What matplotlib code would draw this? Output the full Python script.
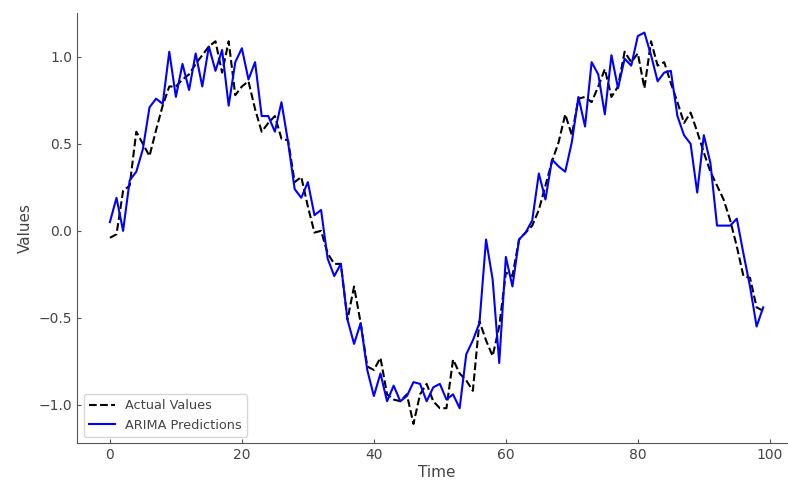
import numpy as np
import matplotlib.pyplot as plt

time = np.arange(100)

actual = [
    -0.04, -0.02, 0.23, 0.26, 0.57, 0.50, 0.43, 0.58, 0.72, 0.83,
    0.83, 0.87, 0.90, 0.96, 1.01, 1.06, 1.09, 0.91, 1.09, 0.78,
    0.83, 0.86, 0.70, 0.57, 0.62, 0.66, 0.53, 0.52, 0.28, 0.31,
    0.14, -0.01, 0.00, -0.13, -0.19, -0.19, -0.51, -0.32, -0.53, -0.78,
    -0.80, -0.73, -0.94, -0.97, -0.98, -0.94, -1.11, -0.94, -0.88, -0.98,
    -1.02, -1.02, -0.74, -0.82, -0.86, -0.92, -0.52, -0.63, -0.72, -0.55,
    -0.24, -0.26, -0.05, -0.01, 0.03, 0.12, 0.26, 0.40, 0.51, 0.67,
    0.55, 0.76, 0.77, 0.74, 0.83, 0.93, 0.77, 0.83, 1.03, 0.97,
    1.02, 0.82, 1.09, 0.95, 0.97, 0.85, 0.74, 0.62, 0.68, 0.57,
    0.45, 0.34, 0.26, 0.18, 0.06, -0.09, -0.26, -0.27, -0.44, -0.46,
]

predicted = [
    0.05, 0.19, 0.00, 0.29, 0.34, 0.47, 0.71, 0.76, 0.73, 1.03,
    0.77, 0.96, 0.81, 1.02, 0.83, 1.06, 0.92, 1.04, 0.72, 0.97,
    1.05, 0.87, 0.97, 0.66, 0.66, 0.57, 0.74, 0.51, 0.24, 0.19,
    0.28, 0.09, 0.12, -0.16, -0.26, -0.19, -0.51, -0.65, -0.53, -0.80,
    -0.95, -0.82, -0.98, -0.89, -0.98, -0.95, -0.87, -0.88, -0.98, -0.90,
    -0.88, -0.97, -0.94, -1.02, -0.71, -0.63, -0.53, -0.05, -0.28, -0.76,
    -0.15, -0.32, -0.05, -0.01, 0.06, 0.33, 0.18, 0.41, 0.37, 0.34,
    0.51, 0.77, 0.60, 0.97, 0.90, 0.67, 1.01, 0.82, 0.99, 0.95,
    1.12, 1.14, 1.01, 0.86, 0.91, 0.92, 0.66, 0.55, 0.50, 0.22,
    0.55, 0.39, 0.03, 0.03, 0.03, 0.07, -0.13, -0.32, -0.55, -0.44,
]

fig = plt.figure(figsize=(7.88, 4.82), dpi=100)
ax = fig.add_axes([0.098, 0.08, 0.912, 0.893])

ax.plot(time, actual, color='black', linestyle='--', linewidth=1.5, label='Actual Values')
ax.plot(time, predicted, color='blue', linewidth=1.5, label='ARIMA Predictions')

ax.set_xlabel('Time', color='#444444', fontsize=11, labelpad=2)
ax.set_ylabel('Values', color='#444444', fontsize=11)
ax.set_yticks([-1.0, -0.5, 0.0, 0.5, 1.0])
ax.tick_params(direction='in', length=3, colors='#555555', labelcolor='#444444', labelsize=10)

for side in ['top', 'right']:
    ax.spines[side].set_visible(False)
for side in ['left', 'bottom']:
    ax.spines[side].set_color('#555555')

ax.legend(loc='lower left', fontsize=9.3, labelcolor='#444444')

plt.savefig('out.png', dpi=100)
